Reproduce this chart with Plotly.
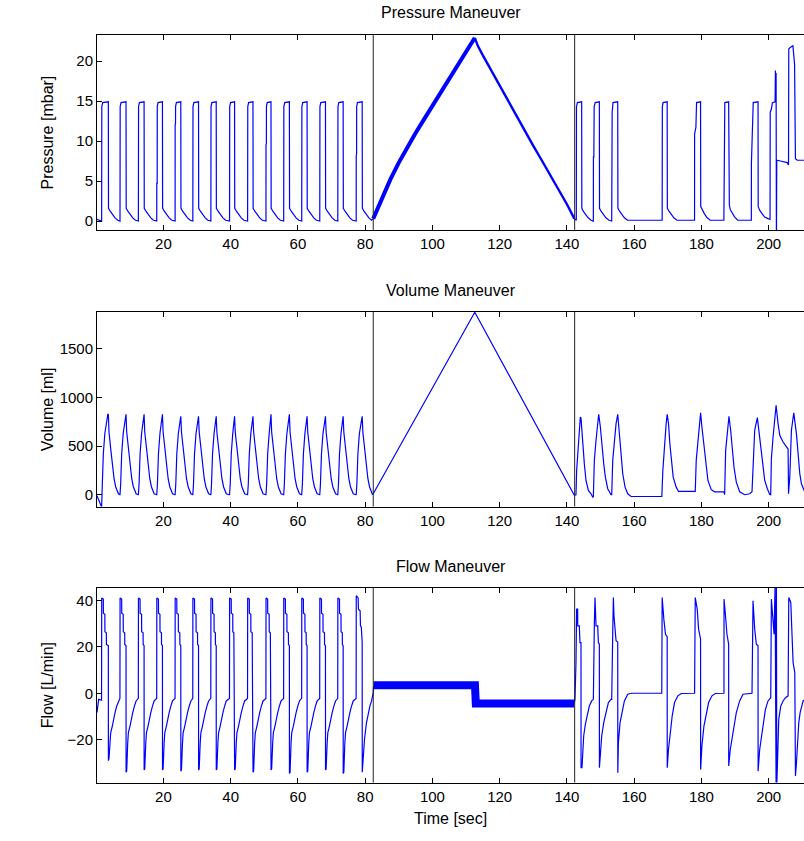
import plotly.graph_objects as go

# ---------------- axis / tick data ----------------
T_RANGE = [0.25, 210.5]
TIME_TICKS = [20, 40, 60, 80, 100, 120, 140, 160, 180, 200]
P_RANGE = [-1.12, 23.25]
P_TICKS = [0, 5, 10, 15, 20]
V_RANGE = [-121, 1880]
V_TICKS = [0, 500, 1000, 1500]
F_RANGE = [-38.4, 45.3]
F_TICKS = [-20, 0, 20, 40]
MANEUVER_MARKS = [82.4, 142.3]
TITLES = ["Pressure Maneuver", "Volume Maneuver", "Flow Maneuver"]
Y_LABELS = ["Pressure [mbar]", "Volume [ml]", "Flow [L/min]"]
X_LABEL = "Time [sec]"

# ---------------- pressure (time [s], mbar) ----------------
PRESSURE_CYCLES = [
    (0.25, 0.2), (1.0, 0.1), (1.60, 0.0),
    (1.63, 0.0), (1.68, 14.3), (1.93, 14.8), (3.62, 14.9), (3.67, 1.6), (4.22, 1.2), (4.82, 0.8), (5.62, 0.4), (6.42, 0.1), (7.06, 0.0),
    (7.09, 0.0), (7.14, 14.3), (7.39, 14.8), (8.88, 14.9), (8.93, 1.6), (9.48, 1.2), (10.08, 0.8), (10.88, 0.4), (11.68, 0.1), (12.53, 0.0),
    (12.56, 0.0), (12.61, 14.3), (12.86, 14.8), (14.25, 14.9), (14.30, 1.6), (14.85, 1.2), (15.45, 0.8), (16.25, 0.4), (17.05, 0.1), (17.99, 0.0),
    (18.02, 0.0), (18.03, 4.7), (18.15, 4.7), (18.17, 14.3), (18.40, 14.8), (19.71, 14.9), (19.76, 1.6), (20.31, 1.2), (20.91, 0.8), (21.71, 0.4), (22.51, 0.1), (23.45, 0.0),
    (23.48, 0.0), (23.49, 12.0), (23.60, 12.2), (23.62, 14.3), (23.85, 14.8), (25.17, 14.9), (25.22, 1.6), (25.77, 1.2), (26.37, 0.8), (27.17, 0.4), (27.97, 0.1), (28.72, 0.0),
    (28.75, 0.0), (28.80, 14.3), (29.05, 14.8), (30.44, 14.9), (30.49, 1.6), (31.04, 1.2), (31.64, 0.8), (32.44, 0.4), (33.24, 0.1), (34.08, 0.0),
    (34.11, 0.0), (34.16, 14.3), (34.41, 14.8), (35.70, 14.9), (35.75, 1.6), (36.30, 1.2), (36.90, 0.8), (37.70, 0.4), (38.50, 0.1), (39.64, 0.0),
    (39.67, 0.0), (39.72, 14.3), (39.97, 14.8), (41.16, 14.9), (41.21, 1.6), (41.76, 1.2), (42.36, 0.8), (43.16, 0.4), (43.96, 0.1), (45.01, 0.0),
    (45.04, 0.0), (45.09, 14.3), (45.34, 14.8), (46.63, 14.9), (46.68, 1.6), (47.23, 1.2), (47.83, 0.8), (48.63, 0.4), (49.43, 0.1), (50.47, 0.0),
    (50.50, 0.0), (50.51, 9.5), (50.62, 9.7), (50.64, 14.3), (50.87, 14.8), (51.99, 14.9), (52.04, 1.6), (52.59, 1.2), (53.19, 0.8), (53.99, 0.4), (54.79, 0.1), (55.74, 0.0),
    (55.77, 0.0), (55.82, 14.3), (56.07, 14.8), (57.46, 14.9), (57.51, 1.6), (58.06, 1.2), (58.66, 0.8), (59.46, 0.4), (60.26, 0.1), (61.10, 0.0),
    (61.13, 0.0), (61.18, 14.3), (61.43, 14.8), (62.72, 14.9), (62.77, 1.6), (63.32, 1.2), (63.92, 0.8), (64.72, 0.4), (65.52, 0.1), (66.47, 0.0),
    (66.50, 0.0), (66.55, 14.3), (66.80, 14.8), (68.19, 14.9), (68.24, 1.6), (68.79, 1.2), (69.39, 0.8), (70.19, 0.4), (70.99, 0.1), (71.83, 0.0),
    (71.86, 0.0), (71.91, 14.3), (72.16, 14.8), (73.45, 14.9), (73.50, 1.6), (74.05, 1.2), (74.65, 0.8), (75.45, 0.4), (76.25, 0.1), (77.30, 0.0),
    (77.33, 0.0), (77.34, 8.2), (77.45, 8.4), (77.47, 14.3), (77.70, 14.8), (79.11, 14.9), (79.16, 1.6), (79.71, 1.2), (80.31, 0.8), (81.11, 0.4), (81.91, 0.1), (82.40, 0.3),
]
PRESSURE_RAMP_UP = [
    (82.4, 0.3), (83.5, 1.4), (85.0, 2.9), (87.5, 5.2), (90.0, 7.3), (92.5, 9.2), (95.0, 11.0),
    (97.5, 12.7), (100.0, 14.4), (102.5, 16.1), (105.0, 17.7), (107.5, 19.4), (110.0, 21.1), (112.6, 22.9),
]
PRESSURE_RAMP_DOWN = [
    (112.6, 22.9), (113.5, 21.9), (115.0, 20.7), (117.5, 18.8), (120.0, 17.0), (122.5, 15.1), (125.0, 13.2),
    (127.5, 11.3), (130.0, 9.4), (132.5, 7.6), (135.0, 5.8), (137.5, 3.9), (140.0, 2.1), (142.2, 0.3),
]
PRESSURE_LATE = [
    (142.2, 0.3), (142.6, 0.1), (142.79, 0.1), (142.84, 14.3), (143.1, 14.8), (144.38, 14.9), (144.43, 1.6), (144.9, 1.2), (145.5, 0.8), (146.3, 0.4), (147.2, 0.1), (147.83, 0.0),
    (147.86, 0.0), (147.88, 8.0), (148.0, 8.0), (148.1, 14.3), (148.4, 14.8), (149.64, 14.9), (149.69, 1.6), (150.2, 1.2), (150.8, 0.8), (151.6, 0.4), (152.5, 0.1), (153.29, 0.0),
    (153.32, 0.0), (153.45, 13.6), (153.7, 14.8), (155.11, 14.9), (155.16, 1.6), (155.7, 1.2), (156.3, 0.8), (157.1, 0.4), (158.0, 0.1), (168.29, 0.1),
    (168.32, 0.1), (168.37, 14.3), (168.6, 14.8), (169.81, 14.9), (169.86, 1.6), (170.4, 1.2), (171.0, 0.8), (171.8, 0.4), (172.7, 0.1), (177.93, 0.1),
    (177.95, 0.1), (177.97, 10.9), (178.35, 11.7), (178.55, 14.8), (179.74, 14.9), (179.79, 1.8), (180.3, 1.3), (180.9, 0.9), (181.7, 0.4), (182.6, 0.1), (186.67, 0.1),
    (186.7, 0.1), (186.75, 14.3), (186.95, 14.8), (188.09, 14.9), (188.12, 3.4), (188.3, 2.0), (188.6, 1.4), (189.2, 0.9), (189.9, 0.5), (190.8, 0.1), (194.82, 0.1),
    (194.84, 0.1), (194.86, 7.2), (195.1, 10.0), (195.4, 14.8), (196.83, 14.9), (196.88, 1.8), (197.4, 1.3), (198.0, 0.9), (198.8, 0.5), (199.8, 0.3), (200.38, 0.2),
    (200.4, 0.2), (200.45, 13.6), (200.8, 14.0), (201.1, 14.8), (201.9, 14.9), (202.0, 18.8), (202.1, 15.0), (202.2, 18.5), (202.3, -3.0), (202.4, 7.6),
    (203.5, 7.5), (205.5, 7.3), (205.9, 7.0), (205.97, 21.5), (206.4, 21.7), (207.2, 21.9), (207.7, 19.6), (207.95, 7.8), (208.5, 7.6), (210.5, 7.6),
]

# ---------------- volume (time [s], ml) ----------------
VOLUME_TRACE = [
    (0.25, -10), (0.9, -70), (1.5, -128), (1.63, -128),
    (1.83, 110), (2.13, 420), (2.58, 630), (2.93, 730), (3.47, 828), (3.62, 828), (3.82, 645), (4.32, 475), (4.82, 285), (5.32, 165), (5.82, 80), (6.62, 10), (7.04, 0),
    (7.09, 0), (7.29, 110), (7.59, 420), (8.04, 630), (8.39, 730), (8.73, 828), (8.88, 828), (9.08, 645), (9.58, 475), (10.08, 285), (10.58, 165), (11.08, 80), (11.88, 10), (12.51, 0),
    (12.56, 0), (12.76, 110), (13.06, 420), (13.51, 630), (13.86, 730), (14.10, 828), (14.25, 828), (14.45, 645), (14.95, 475), (15.45, 285), (15.95, 165), (16.45, 80), (17.25, 10), (17.97, 0),
    (18.02, 0), (18.22, 110), (18.52, 420), (18.97, 630), (19.32, 730), (19.56, 828), (19.71, 828), (19.91, 645), (20.41, 475), (20.91, 285), (21.41, 165), (21.91, 80), (22.71, 10), (23.43, 0),
    (23.48, 0), (23.68, 110), (23.98, 420), (24.43, 630), (24.78, 720), (25.02, 807), (25.17, 807), (25.37, 645), (25.87, 475), (26.37, 285), (26.87, 165), (27.37, 80), (28.17, 10), (28.70, 0),
    (28.75, 0), (28.95, 110), (29.25, 420), (29.70, 630), (30.05, 720), (30.29, 807), (30.44, 807), (30.64, 645), (31.14, 475), (31.64, 285), (32.14, 165), (32.64, 80), (33.44, 10), (34.06, 0),
    (34.11, 0), (34.31, 110), (34.61, 420), (35.06, 630), (35.41, 720), (35.55, 807), (35.70, 807), (35.90, 645), (36.40, 475), (36.90, 285), (37.40, 165), (37.90, 80), (38.70, 10), (39.62, 0),
    (39.67, 0), (39.87, 110), (40.17, 420), (40.62, 630), (40.90, 720), (41.01, 807), (41.16, 807), (41.36, 645), (41.86, 475), (42.36, 285), (42.86, 165), (43.36, 80), (44.16, 10), (44.99, 0),
    (45.04, 0), (45.24, 110), (45.54, 420), (45.99, 630), (46.30, 720), (46.48, 807), (46.63, 807), (46.83, 645), (47.33, 475), (47.83, 285), (48.33, 165), (48.83, 80), (49.63, 10), (50.45, 0),
    (50.50, 0), (50.70, 110), (51.00, 420), (51.45, 630), (51.70, 730), (51.84, 828), (51.99, 828), (52.19, 645), (52.69, 475), (53.19, 285), (53.69, 165), (54.19, 80), (54.99, 10), (55.72, 0),
    (55.77, 0), (55.97, 110), (56.27, 420), (56.72, 630), (57.07, 730), (57.31, 828), (57.46, 828), (57.66, 645), (58.16, 475), (58.66, 285), (59.16, 165), (59.66, 80), (60.46, 10), (61.08, 0),
    (61.13, 0), (61.33, 110), (61.63, 420), (62.08, 630), (62.40, 720), (62.57, 807), (62.72, 807), (62.92, 645), (63.42, 475), (63.92, 285), (64.42, 165), (64.92, 80), (65.72, 10), (66.45, 0),
    (66.50, 0), (66.70, 110), (67.00, 420), (67.45, 630), (67.80, 720), (68.04, 807), (68.19, 807), (68.39, 645), (68.89, 475), (69.39, 285), (69.89, 165), (70.39, 80), (71.19, 10), (71.81, 0),
    (71.86, 0), (72.06, 110), (72.36, 420), (72.81, 630), (73.13, 720), (73.30, 807), (73.45, 807), (73.65, 645), (74.15, 475), (74.65, 285), (75.15, 165), (75.65, 80), (76.45, 10), (77.28, 0),
    (77.33, 0), (77.53, 110), (77.83, 420), (78.28, 630), (78.63, 720), (78.96, 807), (79.11, 807), (79.31, 645), (79.81, 475), (80.31, 285), (80.81, 165), (81.31, 80), (81.9, 20), (82.2, 0),
    (82.4, 10), (112.6, 1877), (142.2, -5),
    (142.69, 0), (142.89, 250), (143.39, 525), (143.98, 800), (144.18, 790), (144.38, 697), (144.68, 491), (145.17, 320), (145.67, 147), (146.37, 44), (147.16, 10), (147.66, -25), (147.86, -20),
    (148.15, 354), (148.65, 560), (149.15, 783), (149.45, 828), (149.94, 697), (150.44, 491), (150.94, 320), (151.43, 181), (152.13, 62), (153.12, 0),
    (153.32, 0), (153.62, 354), (154.11, 560), (154.61, 732), (155.11, 828), (155.6, 629), (156.1, 423), (156.6, 216), (157.29, 78), (158.09, 10), (159.08, -18), (168.02, -18),
    (168.22, -18), (168.52, 250), (169.02, 525), (169.51, 732), (169.81, 828), (170.21, 732), (170.61, 525), (171.0, 354), (171.6, 181), (172.49, 78), (173.19, 34), (177.96, 34),
    (178.16, 34), (178.45, 354), (178.95, 560), (179.45, 800), (179.75, 842), (180.14, 697), (180.74, 491), (181.24, 320), (181.93, 147), (182.92, 52), (183.92, 30), (186.7, 30), (186.75, 0),
    (186.9, 0), (187.2, 457), (187.69, 663), (188.19, 807), (188.69, 663), (189.18, 457), (189.68, 285), (190.37, 130), (191.37, 30), (192.86, 0), (194.35, 10), (195.04, 30),
    (195.34, 285), (195.84, 663), (196.63, 794), (197.03, 663), (197.62, 491), (198.12, 320), (198.82, 147), (199.61, 62), (200.31, 3), (200.6, 0),
    (200.8, 371), (201.3, 594), (201.8, 835), (202.2, 921), (202.79, 732), (203.29, 611), (204.28, 542), (205.47, 491), (205.77, 470), (205.9, 10),
    (206.27, 181), (206.76, 663), (207.46, 842), (208.25, 629), (208.75, 388), (209.25, 216), (209.74, 113), (210.74, 27),
]

# ---------------- flow (time [s], L/min) ----------------
FLOW_CYCLES = [
    (0.25, -8.3), (0.75, -2.6), (1.60, -3.0),
    (1.65, 41), (2.13, 40.5), (2.15, 34.5), (2.58, 34), (2.60, 26.5), (3.03, 26), (3.05, 21), (3.62, 20.5), (3.64, -29), (3.82, -28), (4.12, -21.5), (4.32, -17), (4.82, -14), (5.12, -11.2), (5.62, -8.3), (6.12, -5.5), (6.62, -3.3), (7.07, -2.2),
    (7.11, 41), (7.59, 40.5), (7.61, 34.5), (8.04, 34), (8.06, 26.5), (8.49, 26), (8.51, 21), (8.88, 20.5), (8.90, -34), (9.08, -33.5), (9.38, -21.5), (9.58, -17), (10.08, -14), (10.38, -11.2), (10.88, -8.3), (11.38, -5.5), (11.88, -3.3), (12.54, -2.2),
    (12.58, 41), (13.06, 40.5), (13.08, 34.5), (13.51, 34), (13.53, 26.5), (13.96, 26), (13.98, 21), (14.25, 20.5), (14.27, -33), (14.45, -32.5), (14.75, -21.5), (14.95, -17), (15.45, -14), (15.75, -11.2), (16.25, -8.3), (16.75, -5.5), (17.25, -3.3), (18.00, -2.2),
    (18.04, 41), (18.52, 40.5), (18.54, 34.5), (18.97, 34), (18.99, 26.5), (19.42, 26), (19.44, 21), (19.71, 20.5), (19.73, -33), (19.91, -32.5), (20.21, -21.5), (20.41, -17), (20.91, -14), (21.21, -11.2), (21.71, -8.3), (22.21, -5.5), (22.71, -3.3), (23.46, -2.2),
    (23.50, 41), (23.98, 40.5), (24.00, 34.5), (24.43, 34), (24.45, 26.5), (24.88, 26), (24.90, 21), (25.17, 20.5), (25.19, -33.5), (25.37, -33), (25.67, -21.5), (25.87, -17), (26.37, -14), (26.67, -11.2), (27.17, -8.3), (27.67, -5.5), (28.17, -3.3), (28.73, -2.2),
    (28.77, 41), (29.25, 40.5), (29.27, 34.5), (29.70, 34), (29.72, 26.5), (30.15, 26), (30.17, 21), (30.44, 20.5), (30.46, -33), (30.64, -32.5), (30.94, -21.5), (31.14, -17), (31.64, -14), (31.94, -11.2), (32.44, -8.3), (32.94, -5.5), (33.44, -3.3), (34.09, -2.2),
    (34.13, 41), (34.61, 40.5), (34.63, 34.5), (35.06, 34), (35.08, 26.5), (35.45, 26), (35.47, 21), (35.70, 20.5), (35.72, -33), (35.90, -32.5), (36.20, -21.5), (36.40, -17), (36.90, -14), (37.20, -11.2), (37.70, -8.3), (38.20, -5.5), (38.70, -3.3), (39.65, -2.2),
    (39.69, 41), (40.17, 40.5), (40.19, 34.5), (40.62, 34), (40.64, 26.5), (40.95, 26), (40.97, 21), (41.16, 20.5), (41.18, -33), (41.36, -32.5), (41.66, -21.5), (41.86, -17), (42.36, -14), (42.66, -11.2), (43.16, -8.3), (43.66, -5.5), (44.16, -3.3), (45.02, -2.2),
    (45.06, 41), (45.54, 40.5), (45.56, 34.5), (45.99, 34), (46.01, 26.5), (46.40, 26), (46.42, 21), (46.63, 20.5), (46.65, -34), (46.83, -33.5), (47.13, -21.5), (47.33, -17), (47.83, -14), (48.13, -11.2), (48.63, -8.3), (49.13, -5.5), (49.63, -3.3), (50.48, -2.2),
    (50.52, 41), (51.00, 40.5), (51.02, 34.5), (51.45, 34), (51.47, 26.5), (51.80, 26), (51.82, 21), (51.99, 20.5), (52.01, -33), (52.19, -32.5), (52.49, -21.5), (52.69, -17), (53.19, -14), (53.49, -11.2), (53.99, -8.3), (54.49, -5.5), (54.99, -3.3), (55.75, -2.2),
    (55.79, 41), (56.27, 40.5), (56.29, 34.5), (56.72, 34), (56.74, 26.5), (57.17, 26), (57.19, 21), (57.46, 20.5), (57.48, -34.5), (57.66, -34), (57.96, -21.5), (58.16, -17), (58.66, -14), (58.96, -11.2), (59.46, -8.3), (59.96, -5.5), (60.46, -3.3), (61.11, -2.2),
    (61.15, 41), (61.63, 40.5), (61.65, 34.5), (62.08, 34), (62.10, 26.5), (62.45, 26), (62.47, 21), (62.72, 20.5), (62.74, -34), (62.92, -33.5), (63.22, -21.5), (63.42, -17), (63.92, -14), (64.22, -11.2), (64.72, -8.3), (65.22, -5.5), (65.72, -3.3), (66.48, -2.2),
    (66.52, 41), (67.00, 40.5), (67.02, 34.5), (67.45, 34), (67.47, 26.5), (67.90, 26), (67.92, 21), (68.19, 20.5), (68.21, -33), (68.39, -32.5), (68.69, -21.5), (68.89, -17), (69.39, -14), (69.69, -11.2), (70.19, -8.3), (70.69, -5.5), (71.19, -3.3), (71.84, -2.2),
    (71.88, 41), (72.36, 40.5), (72.38, 34.5), (72.81, 34), (72.83, 26.5), (73.20, 26), (73.22, 21), (73.45, 20.5), (73.47, -34.5), (73.65, -34), (73.95, -21.5), (74.15, -17), (74.65, -14), (74.95, -11.2), (75.45, -8.3), (75.95, -5.5), (76.45, -3.3), (77.31, -2.2),
    (77.35, 42), (77.9, 41), (78.0, 36.2), (78.5, 35.5), (78.6, 29), (78.85, 28.5), (78.9, 22.5), (79.11, 22), (79.13, -34), (79.4, -25.6), (79.8, -19.8), (80.4, -12.6), (80.9, -8.3), (81.4, -5.5), (81.9, -3.3), (82.4, 0.3), (82.5, 3.0),
]
FLOW_STEADY = [(82.5, 3.5), (112.65, 3.5), (112.9, -4.4), (142.15, -4.4)]
FLOW_LATE = [
    (142.19, -4.4), (142.39, -2.6), (142.69, 13), (142.89, 36.2), (143.19, 36.2), (143.21, 29.0), (143.68, 29.0), (143.88, 21.8), (144.18, 21.8),
    (144.2, -32.0), (144.48, -32.0), (144.68, -24.9), (144.98, -18.4), (145.47, -13.4), (145.97, -9.8), (146.66, -5.5), (147.36, -3.3), (147.86, -2.6),
    (148.15, 29.7), (148.35, 41.2), (148.65, 29.0), (149.15, 29.0), (149.35, 21.8), (149.64, 21.1),
    (149.66, -32.0), (149.94, -24.1), (150.34, -18.4), (150.94, -12.6), (151.63, -8.3), (152.33, -4.0), (153.12, -2.6),
    (153.32, -2.6), (153.62, 26.1), (153.82, 41.2), (154.0, 33), (154.61, 22.6), (155.11, 22.0),
    (155.13, -34.2), (155.31, -21.3), (155.8, -12.6), (156.4, -8.3), (157.09, -3.3), (158.09, -0.4), (159.08, 0), (168.2, 0),
    (168.32, 41.2), (168.82, 31.9), (169.31, 25.4), (169.81, 24.4),
    (169.83, -32.0), (170.21, -24.1), (170.7, -17.0), (171.3, -9.8), (172.0, -4.0), (172.99, -1.1), (173.98, -0.1), (177.96, 0),
    (178.16, 41.2), (178.75, 36.2), (179.15, 27.6), (179.74, 23.3),
    (179.76, -32.8), (180.14, -22.7), (180.74, -14.1), (181.43, -8.3), (182.13, -4.0), (183.12, -1.1), (184.12, -0.1), (186.7, 0),
    (186.72, 40.5), (187.2, 32.6), (187.59, 25.4), (188.09, 21.1),
    (188.11, -31.3), (188.59, -24.1), (189.08, -19.8), (189.68, -14.1), (190.37, -8.3), (191.37, -3.3), (192.36, -0.4), (195.04, 0),
    (195.34, 39.8), (195.84, 27.6), (196.33, 21.1), (196.83, 20.4),
    (196.85, -33.5), (197.33, -24.1), (197.82, -18.4), (198.32, -12.6), (199.02, -6.9), (199.81, -3.3), (200.61, -1.9),
    (200.8, 40.5), (201.3, 27.6), (201.6, 25.4), (201.9, 47), (202.0, -40), (202.1, 47), (202.2, -40), (202.3, 47), (202.4, -40),
    (202.59, -31.3), (202.99, -11.2), (203.59, -5.5), (204.28, -3.3), (204.98, -1.9), (205.77, -1.1),
    (205.97, 41.2), (206.57, 39.1), (206.76, 33.3), (207.26, 13.2), (207.76, 8.9),
    (207.96, -35.6), (208.26, -29.9), (208.55, -22.7), (208.95, -12.6), (209.35, -8.3), (209.75, -5.5), (210.24, -3.3), (210.94, -2.6),
]

# ---------------- figure ----------------
W, H = 804, 841
LEFT = 97
BLUE = "#0000ff"
FONT = "Liberation Sans, Arial, Helvetica, sans-serif"

# panel pixel extents (top, bottom)
PANELS = [(35, 230), (312, 506.5), (588, 782.5)]

fig = go.Figure()


def add_line(pairs, idx, width):
    t = [p[0] for p in pairs]
    v = [p[1] for p in pairs]
    suffix = "" if idx == 1 else str(idx)
    fig.add_trace(go.Scatter(x=t, y=v, mode="lines", line=dict(color=BLUE, width=width),
                             xaxis="x" + suffix, yaxis="y" + suffix,
                             showlegend=False, hoverinfo="skip"))


add_line(PRESSURE_CYCLES, 1, 1.2)
add_line(PRESSURE_RAMP_UP, 1, 4.0)
add_line(PRESSURE_RAMP_DOWN, 1, 2.4)
add_line(PRESSURE_LATE, 1, 1.2)
add_line(VOLUME_TRACE, 2, 1.2)
add_line(FLOW_CYCLES, 3, 1.2)
add_line(FLOW_STEADY, 3, 8)
add_line(FLOW_LATE, 3, 1.2)

tickfont = dict(family=FONT, size=15, color="black")
labelfont = dict(family=FONT, size=16, color="black")
ranges = [P_RANGE, V_RANGE, F_RANGE]
yticks = [P_TICKS, V_TICKS, F_TICKS]

layout = dict(
    width=W, height=H,
    margin=dict(l=LEFT, r=0, t=0, b=0),
    paper_bgcolor="white", plot_bgcolor="white",
    showlegend=False,
)
annotations = []
shapes = []
for i, (top, bot) in enumerate(PANELS):
    n = i + 1
    suffix = "" if n == 1 else str(n)
    dom = [1 - bot / H, 1 - top / H]
    layout["xaxis" + suffix] = dict(
        range=T_RANGE, tickvals=TIME_TICKS, ticks="inside", ticklen=5, tickwidth=1,
        tickcolor="black", showline=True, linecolor="black", linewidth=1, mirror="ticks",
        showgrid=False, zeroline=False, tickfont=tickfont, anchor="y" + suffix,
        domain=[0, 1],
    )
    layout["yaxis" + suffix] = dict(
        range=ranges[i], tickvals=yticks[i], ticks="inside", ticklen=5, tickwidth=1,
        tickcolor="black", showline=True, linecolor="black", linewidth=1, mirror=False,
        showgrid=False, zeroline=False, tickfont=tickfont, anchor="x" + suffix,
        domain=dom,
    )
    annotations.append(dict(text=TITLES[i], x=0.5, xref="paper", y=1 - (top - 22) / H, yref="paper",
                            xanchor="center", yanchor="middle", showarrow=False, font=labelfont))
    annotations.append(dict(text=Y_LABELS[i], x=(47 - LEFT) / (W - LEFT), xref="paper",
                            y=1 - (top + bot) / 2 / H, yref="paper", textangle=-90,
                            xanchor="center", yanchor="middle", showarrow=False, font=labelfont))
    for m in MANEUVER_MARKS:
        shapes.append(dict(type="line", xref="x" + suffix, yref="y" + suffix + " domain",
                           x0=m, x1=m, y0=0, y1=1, line=dict(color="#222222", width=1)))

annotations.append(dict(text=X_LABEL, x=0.5, xref="paper", y=1 - 818 / H, yref="paper",
                        xanchor="center", yanchor="middle", showarrow=False, font=labelfont))
layout["annotations"] = annotations
layout["shapes"] = shapes
fig.update_layout(**layout)

fig.write_html("out.html")
